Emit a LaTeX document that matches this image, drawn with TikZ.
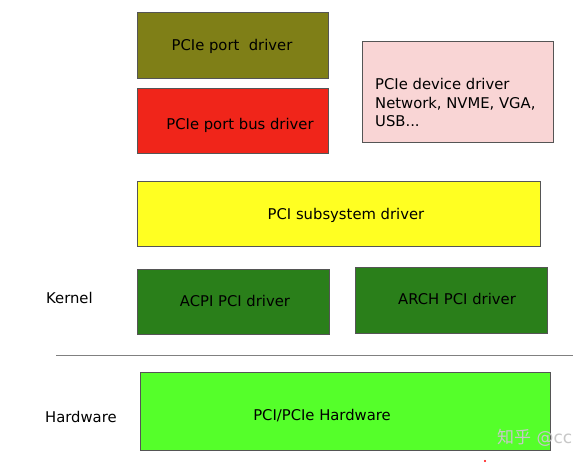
\documentclass[tikz,border=0pt]{standalone}
\usepackage{fontspec}
\setmainfont{DejaVu Sans}
\newfontfamily\cjk{Noto Sans CJK SC}
\definecolor{olivebox}{HTML}{7F7F17}
\definecolor{redbox}{HTML}{F0251A}
\definecolor{pinkbox}{HTML}{F9D5D5}
\definecolor{yellowbox}{HTML}{FFFF22}
\definecolor{darkgreenbox}{HTML}{2A7F1A}
\definecolor{greenbox}{HTML}{55FF2A}
\definecolor{edgegray}{HTML}{555555}
\begin{document}
\begin{tikzpicture}[x=1pt,y=-1pt,
  box/.style={draw=edgegray,line width=0.8pt,inner sep=0pt,anchor=north west},
  lbl/.style={font=\fontsize{14.8pt}{18.5pt}\selectfont,text=black,inner sep=0pt,yshift=-1.5pt}]
\useasboundingbox (0,0) rectangle (579,464);
\fill[white] (0,0) rectangle (579,464);
% boxes
\node[box,fill=olivebox,minimum width=191pt,minimum height=66pt] (pd) at (137,12) {};
\node[box,fill=redbox,minimum width=191pt,minimum height=65pt] (pbd) at (137,88) {};
\node[box,fill=pinkbox,minimum width=191pt,minimum height=101pt] (dev) at (362,41) {};
\node[box,fill=yellowbox,minimum width=403pt,minimum height=65pt] (sub) at (137,181) {};
\node[box,fill=darkgreenbox,minimum width=192pt,minimum height=65pt] (acpi) at (137,269) {};
\node[box,fill=darkgreenbox,minimum width=192pt,minimum height=66pt] (arch) at (355,267) {};
\node[box,fill=greenbox,minimum width=410pt,minimum height=78pt] (hw) at (140,372) {};
% texts
\node[lbl] (tpd) at (232,45) {PCIe port \ driver};
\node[lbl] (tpbd) at (240,124) {PCIe port bus driver};
\node[lbl,align=left,anchor=west] (tdev) at (375,101) {PCIe device driver\\Network, NVME, VGA,\\USB...};
\node[lbl] (tsub) at (346,214) {PCI subsystem driver};
\node[lbl] (tacpi) at (235,299) {ACPI PCI driver};
\node[lbl] (tarch) at (457,297) {ARCH PCI driver};
\node[lbl] (thw) at (322,414) {PCI/PCIe Hardware};
\node[lbl,anchor=west] (kern) at (46,296) {Kernel};
\node[lbl,anchor=west] (hard) at (45,415) {Hardware};
% separator
\coordinate (sepL) at (56,355);
\coordinate (sepR) at (573,355);
\draw[gray,line width=0.9pt] (sepL) -- (sepR);
% watermark
\node[anchor=west,inner sep=0pt,text=black!22,font=\fontsize{17pt}{20pt}\selectfont] (wm) at (497,438) {{\cjk 知乎} @cc};
\fill[red] (485,461) circle (1.2pt);
\end{tikzpicture}
\end{document}
